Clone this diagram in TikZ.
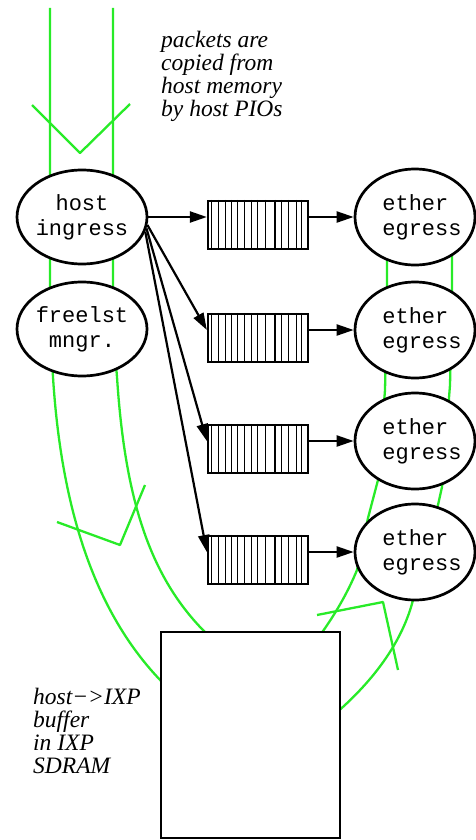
\documentclass[tikz,border=0pt]{standalone}
\usepackage{fontspec}
\setmainfont{Liberation Serif}
\newfontfamily\monof{Liberation Mono}
\usetikzlibrary{arrows.meta,shapes.geometric}
\definecolor{flowgreen}{RGB}{40,235,40}
\begin{document}
\begin{tikzpicture}[x=1pt,y=-1pt,
  flow/.style={draw=flowgreen,line width=2.3pt,line join=round},
  proc/.style={ellipse,draw,fill=white,line width=2.7pt,inner sep=0pt},
  hostproc/.style={proc,minimum width=130pt,minimum height=94pt},
  etherproc/.style={proc,minimum width=120pt,minimum height=96pt},
  queue/.style={rectangle,draw,fill=white,line width=2.3pt,minimum width=100pt,minimum height=48pt,inner sep=0pt},
  slot/.style={line width=1pt},
  feed/.style={line width=2.2pt,-{Triangle[length=17pt,width=11pt]}},
  note/.style={align=left,anchor=north west,inner sep=0pt,font=\fontsize{23.5}{23}\selectfont\itshape},
  tag/.style={inner sep=0pt,font=\monof\fontsize{22}{25}\selectfont}
]
\useasboundingbox (0,0) rectangle (475,840);

% packet flow on the host side
\draw[flow] (50,8) -- (50,330) -- (53,377) .. controls (62,520) and (100,620) .. (165,685);
\draw[flow] (113,8) -- (113,330) -- (117,377) .. controls (125,500) and (150,580) .. (210,637);
\draw[flow] (32,105) -- (80,153) -- (130,104);
\draw[flow] (57,522) -- (120,545) -- (145,485);

% packet flow on the egress side
\draw[flow] (387,240) -- (387,300) -- (385,390) -- (378,480) -- (368,518) -- (357,570)
  .. controls (348,592) and (335,615) .. (318,638);
\draw[flow] (452,240) -- (452,300) -- (450,385) -- (442,487) -- (438,505) -- (414,596)
  .. controls (405,635) and (380,675) .. (335,714);
\draw[flow] (317,615) -- (383,602) -- (398,670);

% processes
\node[hostproc] (hi) at (82,217) {};
\node[hostproc] (fm) at (82,329) {};
\node[etherproc] (e1) at (415,217) {};
\node[etherproc] (e2) at (415,330) {};
\node[etherproc] (e3) at (415,441) {};
\node[etherproc] (e4) at (415,552) {};

\node[tag,align=center] (hit) at (hi) {host\\ingress};
\node[tag,align=center] (fmt) at (fm) {freelst\\mngr.};
\foreach \e in {e1,e2,e3,e4}
  \node[tag,align=left] (\e t) at ([xshift=7pt]\e.center) {ether\\egress};

% transmit queues
\node[queue] (q1) at (258,225) {};
\node[queue] (q2) at (258,338) {};
\node[queue] (q3) at (258,449) {};
\node[queue] (q4) at (258,560) {};
\foreach \q in {q1,q2,q3,q4}{
  \foreach \d in {5,11.7,18.3,25,31,37.7,44.3,51,58.3,75,81.7,89.3,95}
    \draw[slot] ([xshift=\d pt]\q.north west) -- ([xshift=\d pt]\q.south west);
  \draw[line width=1.8pt] ([xshift=68.3pt]\q.north west) -- ([xshift=68.3pt]\q.south west);
}

% buffer in SDRAM
\node[draw,fill=white,line width=2.8pt,minimum width=179pt,minimum height=206pt,inner sep=0pt] (buf) at (250.5,735) {};

% enqueue and dequeue
\draw[feed] (hi.east) -- ([yshift=8pt]q1.west);
\draw[feed] (hi.-7) -- ([yshift=8pt]q2.west);
\draw[feed] (hi.-10) -- ([yshift=8pt]q3.west);
\draw[feed] (hi.-13) -- ([yshift=8pt]q4.west);
\draw[feed] ([yshift=8pt]q1.east) -- (e1.west);
\draw[feed] ([yshift=8pt]q2.east) -- (e2.west);
\draw[feed] ([yshift=8pt]q3.east) -- (e3.west);
\draw[feed] ([yshift=8pt]q4.east) -- (e4.west);

% annotations
\node[note] (memnote) at (161,31) {packets are\\copied from\\host memory\\by host PIOs};
\node[note] (bufnote) at (33,688) {host−>IXP\\buffer\\in IXP\\SDRAM};
\end{tikzpicture}
\end{document}
